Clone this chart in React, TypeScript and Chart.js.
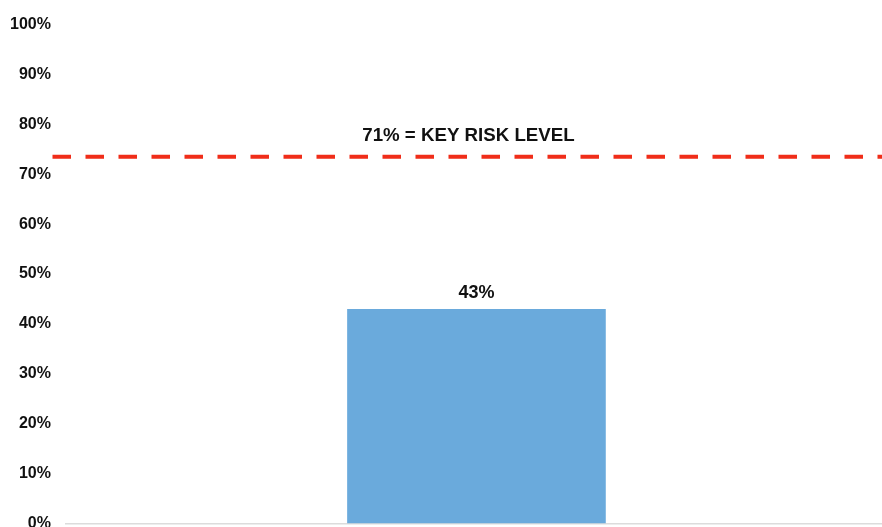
import React, { useEffect, useRef } from "react";
import { Chart, registerables } from "chart.js";

Chart.register(...registerables);

const categories: string[] = [""];
const values: number[] = [43];
const yTicks: number[] = [0, 10, 20, 30, 40, 50, 60, 70, 80, 90, 100];
const riskLineValue: number[] = [73.5];
const riskLabel: string[] = ["71% = KEY RISK LEVEL"];

const FONT = "'Liberation Sans', Arial, Helvetica, sans-serif";

const overlayPlugin = {
  id: "overlay",
  afterDatasetsDraw(chart: any) {
    const ctx = chart.ctx;
    const y = chart.scales.y;
    const area = chart.chartArea;
    const meta = chart.getDatasetMeta(0);
    ctx.save();
    ctx.fillStyle = "#111";
    ctx.font = `bold 18px ${FONT}`;
    ctx.textAlign = "center";
    ctx.textBaseline = "bottom";
    meta.data.forEach((el: any, i: number) => {
      ctx.fillText(values[i] + "%", el.x, el.y - 7);
    });
    const ly = y.getPixelForValue(riskLineValue[0]);
    ctx.strokeStyle = "rgb(240,45,25)";
    ctx.lineWidth = 4;
    ctx.setLineDash([18.5, 14.5]);
    ctx.beginPath();
    ctx.moveTo(52.5, ly);
    ctx.lineTo(chart.width + 20, ly);
    ctx.stroke();
    ctx.setLineDash([]);
    ctx.fillStyle = "#111";
    ctx.font = `bold 18.7px ${FONT}`;
    ctx.textBaseline = "middle";
    ctx.fillText(riskLabel[0], (area.left + area.right) / 2 - 8, ly - 21);
    ctx.restore();
  },
};

export default function App() {
  const ref = useRef<HTMLCanvasElement | null>(null);
  useEffect(() => {
    document.body.style.margin = "0";
    document.body.style.overflow = "hidden";
    const chart = new Chart(ref.current as HTMLCanvasElement, {
      type: "bar",
      data: {
        labels: categories,
        datasets: [
          {
            data: values,
            backgroundColor: "rgb(106,170,220)",
            barPercentage: 0.315,
            categoryPercentage: 1,
          },
        ],
      },
      options: {
        animation: false,
        responsive: false,
        layout: { padding: { top: 14, right: 0, bottom: 0, left: -5 } },
        plugins: { legend: { display: false }, tooltip: { enabled: false } },
        scales: {
          x: {
            grid: { display: false, drawTicks: false, tickLength: 0 },
            border: { display: true, color: "#dcdcdc", width: 1.5 },
            ticks: { display: false },
          },
          y: {
            min: 0,
            max: 100,
            afterBuildTicks: (scale: any) => {
              scale.ticks = yTicks.map((v) => ({ value: v }));
            },
            grid: { display: false, drawTicks: false, tickLength: 0 },
            border: { display: false },
            ticks: {
              padding: 15,
              color: "#111",
              font: { family: FONT, size: 16, weight: "bold" },
              callback: (v: any) => v + "%",
            },
          },
        },
      },
      plugins: [overlayPlugin],
    });
    return () => chart.destroy();
  }, []);
  return (
    <div style={{ width: 882, height: 527, overflow: "hidden", background: "#fff" }}>
      <canvas ref={ref} width={887} height={548} style={{ display: "block" }} />
    </div>
  );
}
